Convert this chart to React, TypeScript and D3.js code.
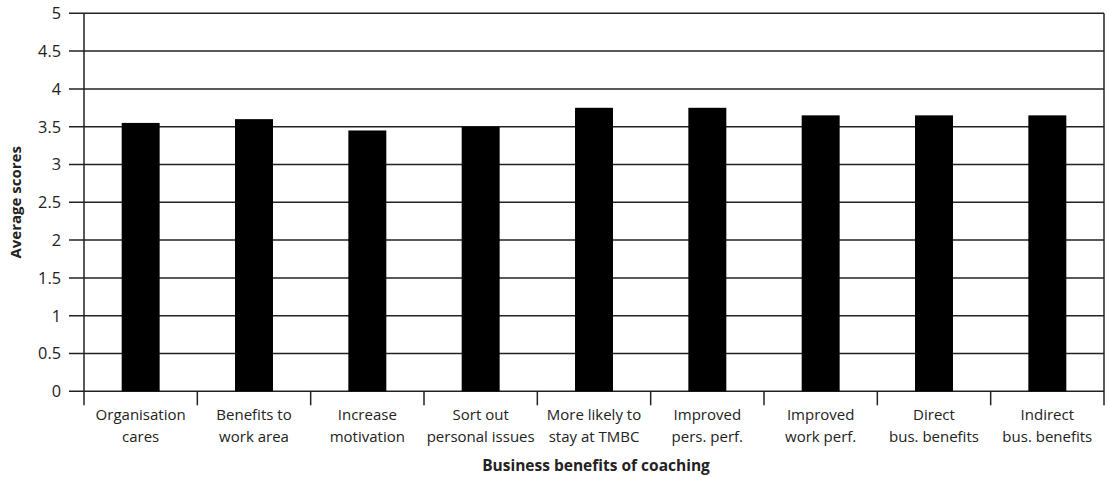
import React from "react";
import * as d3 from "d3";

const categories: string[][] = [
  ["Organisation", "cares"],
  ["Benefits to", "work area"],
  ["Increase", "motivation"],
  ["Sort out", "personal issues"],
  ["More likely to", "stay at TMBC"],
  ["Improved", "pers. perf."],
  ["Improved", "work perf."],
  ["Direct", "bus. benefits"],
  ["Indirect", "bus. benefits"],
];
const values: number[] = [3.55, 3.6, 3.45, 3.5, 3.75, 3.75, 3.65, 3.65, 3.65];
const yTicks: number[] = [0, 0.5, 1, 1.5, 2, 2.5, 3, 3.5, 4, 4.5, 5];
const yTickLabels: string[] = ["0", "0.5", "1", "1.5", "2", "2.5", "3", "3.5", "4", "4.5", "5"];

const W = 1107;
const H = 477;
const M = { left: 84, right: 3, top: 13.3, bottom: 85.7 };
const FONT = "'Open Sans', sans-serif";

export default function App() {
  const x = d3
    .scaleBand<number>()
    .domain(d3.range(categories.length))
    .range([M.left, W - M.right])
    .paddingInner(0)
    .paddingOuter(0);
  const y = d3.scaleLinear().domain([0, 5]).range([H - M.bottom, M.top]);
  const bw = x.bandwidth() * 0.335;
  const y0 = y(0);

  return (
    <svg
      width={W}
      height={H}
      style={{ position: "absolute", left: 0, top: 0, background: "#fff" }}
      fontFamily={FONT}
    >
      {yTicks.map((t, i) => (
        <g key={"g" + i}>
          <line x1={69} x2={W - M.right} y1={y(t)} y2={y(t)} stroke="#222" strokeWidth={1.5} />
          <text x={61} y={y(t)} dy="0.36em" textAnchor="end" fontSize={16.3} fill="#222">
            {yTickLabels[i]}
          </text>
        </g>
      ))}
      <line x1={M.left} x2={M.left} y1={M.top} y2={y0 + 14} stroke="#222" strokeWidth={1.5} />
      {categories.map((_, i) => (
        <line
          key={"t" + i}
          x1={(x(i) as number) + x.bandwidth()}
          x2={(x(i) as number) + x.bandwidth()}
          y1={i === categories.length - 1 ? M.top : y0}
          y2={y0 + 14}
          stroke="#222"
          strokeWidth={1.5}
        />
      ))}
      {values.map((v, i) => (
        <rect
          key={"b" + i}
          x={(x(i) as number) + x.bandwidth() / 2 - bw / 2}
          y={y(v)}
          width={bw}
          height={y0 - y(v)}
          fill="#000"
        />
      ))}
      {categories.map((lines, i) => (
        <text
          key={"c" + i}
          x={(x(i) as number) + x.bandwidth() / 2}
          y={419.5}
          textAnchor="middle"
          fontSize={15}
          fill="#222"
        >
          {lines.map((l, j) => (
            <tspan key={j} x={(x(i) as number) + x.bandwidth() / 2} dy={j === 0 ? 0 : 22}>
              {l}
            </tspan>
          ))}
        </text>
      ))}
      <text x={596} y={471} textAnchor="middle" fontSize={15.5} fontWeight="bold" fill="#222">
        Business benefits of coaching
      </text>
      <text
        transform={`translate(21,${(M.top + y0) / 2}) rotate(-90)`}
        textAnchor="middle"
        fontSize={15}
        fontWeight="bold"
        fill="#222"
      >
        Average scores
      </text>
    </svg>
  );
}
